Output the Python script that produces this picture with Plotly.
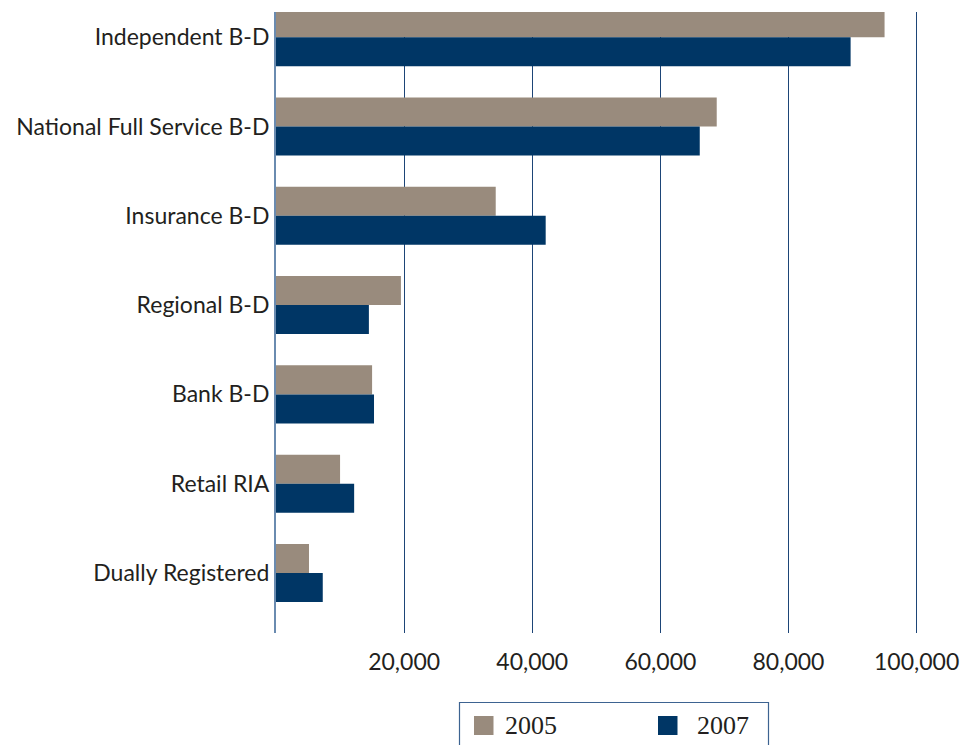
import plotly.graph_objects as go

# Channel categories, top to bottom
categories = [
    "Independent B-D",
    "National Full Service B-D",
    "Insurance B-D",
    "Regional B-D",
    "Bank B-D",
    "Retail RIA",
    "Dually Registered",
]

series_names = ["2005", "2007"]
values_2005 = [95000, 68800, 34300, 19500, 15000, 10000, 5150]
values_2007 = [89700, 66150, 42100, 14500, 15300, 12200, 7300]

x_tick_values = [20000, 40000, 60000, 80000, 100000]
x_tick_labels = ["20,000", "40,000", "60,000", "80,000", "100,000"]

colors = ["#998b7d", "#003665"]
grid_color = "#1d4577"
axis_color = "#6a8bb0"
text_color = "#231f20"
label_font = "Lato, 'Open Sans', sans-serif"

fig = go.Figure()
for name, vals, col in zip(series_names, [values_2005, values_2007], colors):
    fig.add_trace(go.Bar(
        name=name,
        y=categories,
        x=vals,
        orientation="h",
        marker=dict(color=col, line=dict(width=0)),
        showlegend=False,
        hoverinfo="x+y",
    ))

W, H = 964, 745
ml, mr, mt, mb = 276, 41, 12, 112
plot_w = W - ml - mr
plot_h = H - mt - mb


def px_x(p):
    return (p - ml) / plot_w


def px_y(p):
    return (H - mb - p) / plot_h


# Boxed legend below the axis
shapes = [dict(
    type="rect", xref="paper", yref="paper",
    x0=px_x(459.5), x1=px_x(768.5), y0=px_y(760), y1=px_y(702.5),
    line=dict(color="#3d6391", width=1.2), fillcolor="rgba(0,0,0,0)",
)]
annotations = []
swatch_x = [474, 658]
text_x = [503, 695]
for name, col, sx, tx in zip(series_names, colors, swatch_x, text_x):
    shapes.append(dict(
        type="rect", xref="paper", yref="paper",
        x0=px_x(sx), x1=px_x(sx + 19.5), y0=px_y(735), y1=px_y(716),
        line=dict(width=0), fillcolor=col,
    ))
    annotations.append(dict(
        xref="paper", yref="paper", x=px_x(tx), y=px_y(725.5),
        text=name, showarrow=False, xanchor="left", yanchor="middle",
        font=dict(family="'Liberation Serif', serif", size=26, color=text_color),
    ))

fig.update_layout(
    width=W, height=H,
    margin=dict(l=ml, r=mr, t=mt, b=mb, pad=0, autoexpand=False),
    paper_bgcolor="white", plot_bgcolor="white",
    barmode="group", bargap=0.35, bargroupgap=0,
    shapes=shapes, annotations=annotations,
    font=dict(family=label_font, color=text_color),
)
fig.update_xaxes(
    range=[0, 101000], automargin=False,
    tickvals=x_tick_values, ticktext=x_tick_labels,
    showgrid=True, gridcolor=grid_color, gridwidth=1.3,
    zeroline=False, showline=False, ticks="",
    ticklabelstandoff=13,
    tickfont=dict(family=label_font, size=23, color=text_color),
)
fig.update_yaxes(
    categoryorder="array", categoryarray=categories,
    range=[6.672, -0.282], automargin=False,
    showgrid=False, zeroline=False,
    showline=True, linecolor=axis_color, linewidth=2,
    ticks="", ticklabelstandoff=0,
    tickfont=dict(family=label_font, size=23, color=text_color),
)

fig.write_html("out.html")
